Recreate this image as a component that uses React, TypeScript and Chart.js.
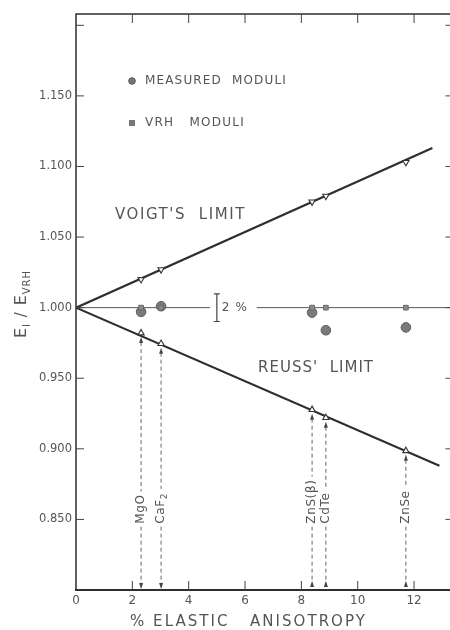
import React, { useEffect, useRef } from "react";
import { Chart, registerables } from "chart.js";

Chart.register(...registerables);

// ---- data ----
const compounds = ["MgO", "CaF", "ZnS(β)", "CdTe", "ZnSe"];
const compoundSubs = ["", "2", "", "", ""];
const anisotropy = [2.31, 3.02, 8.38, 8.87, 11.71];
const voigtRatio = [1.02, 1.027, 1.075, 1.079, 1.103];
const reussRatio = [0.982, 0.9745, 0.9277, 0.922, 0.8986];
const measuredRatio = [0.997, 1.001, 0.9965, 0.984, 0.986];
const vrhRatio = [1.0, 1.0, 1.0, 1.0, 1.0];
const voigtLineX = [0, 12.65];
const voigtLineY = [1.0, 1.113];
const reussLineX = [0, 12.9];
const reussLineY = [1.0, 0.888];
const refLeftX = [0, 4.75];
const refRightX = [6.42, 13.4];
const refY = 1.0;
const errBarX = 5.0;
const errBarHalf = 0.0098;
const xTickLabels = [0, 2, 4, 6, 8, 10, 12];
const xTickMarks = [2, 4, 6, 8, 10, 12];
const yTickLabels = [0.85, 0.9, 0.95, 1.0, 1.05, 1.1, 1.15];
const yTickMarks = [0.85, 0.9, 0.95, 1.0, 1.05, 1.1, 1.15, 1.2];
const X_MIN = 0;
const X_MAX = 13.4;
const Y_MIN = 0.8;
const Y_MAX = 1.208;
const bottomArrowUp = [false, false, true, true, true];
const labelBaseY = 0.847;

const FONT = '"DejaVu Sans", "Liberation Sans", sans-serif';
const TEXT = "#555";
const INK = "#2e2e2e";

function fitText(ctx: CanvasRenderingContext2D, text: string, x: number, y: number, width: number) {
  (ctx as any).letterSpacing = "0px";
  const w = ctx.measureText(text).width;
  const n = text.length;
  let ls = (width - w) / Math.max(1, n);
  if (ls < -1) ls = -1;
  (ctx as any).letterSpacing = ls.toFixed(2) + "px";
  ctx.textAlign = "left";
  ctx.fillText(text, x, y);
  (ctx as any).letterSpacing = "0px";
}

const decoPlugin = {
  id: "deco",
  beforeDatasetsDraw(chart: any) {
    const { ctx, chartArea: a, scales } = chart;
    const x = scales.x;
    const y = scales.y;
    ctx.save();
    ctx.textBaseline = "middle";
    compounds.forEach((name, i) => {
      const px = x.getPixelForValue(anisotropy[i]);
      const top = y.getPixelForValue(reussRatio[i]) + 4;
      const base = y.getPixelForValue(labelBaseY);
      ctx.font = `12px ${FONT}`;
      (ctx as any).letterSpacing = "0.6px";
      const w1 = ctx.measureText(name).width;
      ctx.font = `9px ${FONT}`;
      const w2 = compoundSubs[i] ? ctx.measureText(compoundSubs[i]).width + 1 : 0;
      const lw = w1 + w2;
      ctx.strokeStyle = "#555";
      ctx.lineWidth = 0.9;
      ctx.setLineDash([4, 3]);
      ctx.beginPath();
      ctx.moveTo(px, top + 5);
      ctx.lineTo(px, base - lw - 3);
      ctx.moveTo(px, base + 3);
      ctx.lineTo(px, a.bottom - 2);
      ctx.stroke();
      ctx.setLineDash([]);
      ctx.fillStyle = "#444";
      ctx.beginPath();
      ctx.moveTo(px, top);
      ctx.lineTo(px - 2, top + 6);
      ctx.lineTo(px + 2, top + 6);
      ctx.closePath();
      ctx.fill();
      ctx.beginPath();
      if (bottomArrowUp[i]) {
        ctx.moveTo(px, a.bottom - 9);
        ctx.lineTo(px - 2, a.bottom - 3);
        ctx.lineTo(px + 2, a.bottom - 3);
      } else {
        ctx.moveTo(px, a.bottom - 1);
        ctx.lineTo(px - 2, a.bottom - 7);
        ctx.lineTo(px + 2, a.bottom - 7);
      }
      ctx.closePath();
      ctx.fill();
      ctx.save();
      ctx.translate(px, base);
      ctx.rotate(-Math.PI / 2);
      ctx.fillStyle = TEXT;
      ctx.textAlign = "left";
      ctx.font = `12px ${FONT}`;
      (ctx as any).letterSpacing = "0.6px";
      ctx.fillText(name, 0, 0);
      if (compoundSubs[i]) {
        ctx.font = `9px ${FONT}`;
        ctx.fillText(compoundSubs[i], w1, 4);
      }
      (ctx as any).letterSpacing = "0px";
      ctx.restore();
    });
    ctx.restore();
  },
  afterDatasetsDraw(chart: any) {
    const { ctx, chartArea: a, scales } = chart;
    const x = scales.x;
    const y = scales.y;
    ctx.save();
    // frame (right side lies outside the visible window)
    ctx.strokeStyle = INK;
    ctx.lineWidth = 1.5;
    ctx.beginPath();
    ctx.moveTo(a.left, a.bottom);
    ctx.lineTo(a.left, a.top);
    ctx.lineTo(a.right + 10, a.top);
    ctx.stroke();
    ctx.lineWidth = 2.2;
    ctx.beginPath();
    ctx.moveTo(a.left - 1, a.bottom);
    ctx.lineTo(a.right + 10, a.bottom);
    ctx.stroke();
    // ticks
    ctx.lineWidth = 1;
    ctx.strokeStyle = "#444";
    ctx.beginPath();
    yTickMarks.forEach((v) => {
      const py = y.getPixelForValue(v);
      ctx.moveTo(a.left, py);
      ctx.lineTo(a.left + 8, py);
      ctx.moveTo(a.right, py);
      ctx.lineTo(a.right - 8, py);
    });
    xTickMarks.forEach((v) => {
      const px = x.getPixelForValue(v);
      ctx.moveTo(px, a.top);
      ctx.lineTo(px, a.top + 9);
      ctx.moveTo(px, a.bottom);
      ctx.lineTo(px, a.bottom - 9);
    });
    ctx.stroke();
    // error bar
    const ex = x.getPixelForValue(errBarX);
    const et = y.getPixelForValue(refY + errBarHalf);
    const eb = y.getPixelForValue(refY - errBarHalf);
    ctx.strokeStyle = "#444";
    ctx.lineWidth = 1.2;
    ctx.beginPath();
    ctx.moveTo(ex, et);
    ctx.lineTo(ex, eb);
    ctx.moveTo(ex - 3, et);
    ctx.lineTo(ex + 3, et);
    ctx.moveTo(ex - 3, eb);
    ctx.lineTo(ex + 3, eb);
    ctx.stroke();
    ctx.fillStyle = TEXT;
    ctx.textBaseline = "middle";
    ctx.font = `12px ${FONT}`;
    fitText(ctx, "2 %", ex + 5, y.getPixelForValue(refY), 26);
    // texts
    ctx.font = `12px ${FONT}`;
    fitText(ctx, "MEASURED  MODULI", 145, 81, 142);
    fitText(ctx, "VRH   MODULI", 145, 123, 100);
    ctx.font = `15px ${FONT}`;
    fitText(ctx, "VOIGT'S  LIMIT", 115, 215, 131);
    fitText(ctx, "REUSS'  LIMIT", 258, 368, 116);
    // legend marks
    ctx.fillStyle = "#777";
    ctx.strokeStyle = "#555";
    ctx.lineWidth = 1;
    ctx.beginPath();
    ctx.arc(132, 81, 3.3, 0, Math.PI * 2);
    ctx.fill();
    ctx.stroke();
    ctx.fillRect(129, 120, 6, 6);
    // x title
    ctx.fillStyle = TEXT;
    ctx.font = `15px ${FONT}`;
    fitText(ctx, "% ELASTIC   ANISOTROPY", 130, 622, 237);
    // y title
    ctx.save();
    ctx.translate(22, 338);
    ctx.rotate(-Math.PI / 2);
    ctx.textAlign = "left";
    ctx.textBaseline = "middle";
    let cx = 0;
    const part = (t: string, size: number, dy: number, ls: number) => {
      ctx.font = `${size}px ${FONT}`;
      (ctx as any).letterSpacing = ls + "px";
      ctx.fillText(t, cx, dy);
      cx += ctx.measureText(t).width;
    };
    part("E", 16, 0, 1);
    part("I", 10, 5, 1);
    part(" / ", 15, 0, 1);
    part("E", 16, 0, 1);
    part("VRH", 10, 5, 1);
    (ctx as any).letterSpacing = "0px";
    ctx.restore();
    ctx.restore();
  },
};

export default function App() {
  const ref = useRef<HTMLCanvasElement>(null);
  useEffect(() => {
    document.body.style.margin = "0";
    const pts = (xs: number[], ys: number[]) => xs.map((v, i) => ({ x: v, y: ys[i] }));
    const chart = new Chart(ref.current as HTMLCanvasElement, {
      type: "scatter",
      data: {
        datasets: [
          {
            label: "VRH moduli",
            data: pts(anisotropy, vrhRatio),
            pointStyle: "rect",
            pointRadius: 3.3,
            backgroundColor: "#8c8c8c",
            borderColor: "#666",
            borderWidth: 1,
          },
          {
            label: "Measured moduli",
            data: pts(anisotropy, measuredRatio),
            pointStyle: "circle",
            pointRadius: 4.8,
            backgroundColor: "#7a7a7a",
            borderColor: "#5c5c5c",
            borderWidth: 1,
          },
          {
            label: "Voigt",
            data: pts(anisotropy, voigtRatio),
            pointStyle: "triangle",
            rotation: 180,
            pointRadius: 3.6,
            backgroundColor: "#fff",
            borderColor: "#333",
            borderWidth: 1.1,
          },
          {
            label: "Reuss",
            data: pts(anisotropy, reussRatio),
            pointStyle: "triangle",
            pointRadius: 3.6,
            backgroundColor: "#fff",
            borderColor: "#333",
            borderWidth: 1.1,
          },
          {
            label: "Voigt limit",
            data: pts(voigtLineX, voigtLineY),
            showLine: true,
            pointRadius: 0,
            borderColor: INK,
            borderWidth: 2.2,
          },
          {
            label: "Reuss limit",
            data: pts(reussLineX, reussLineY),
            showLine: true,
            pointRadius: 0,
            borderColor: INK,
            borderWidth: 2.2,
          },
          {
            label: "ref left",
            data: refLeftX.map((v) => ({ x: v, y: refY })),
            showLine: true,
            pointRadius: 0,
            borderColor: "#555",
            borderWidth: 1,
          },
          {
            label: "ref right",
            data: refRightX.map((v) => ({ x: v, y: refY })),
            showLine: true,
            pointRadius: 0,
            borderColor: "#555",
            borderWidth: 1,
          },
        ],
      },
      options: {
        animation: false,
        responsive: false,
        layout: { padding: { top: 14, right: 462 - 453.5, left: 0, bottom: 0 } },
        plugins: { legend: { display: false }, tooltip: { enabled: false } },
        scales: {
          x: {
            type: "linear",
            min: X_MIN,
            max: X_MAX,
            grid: { display: false, drawTicks: false },
            border: { display: false },
            afterFit: (s: any) => {
              s.height = 40;
            },
            afterBuildTicks: (s: any) => {
              s.ticks = xTickLabels.map((v) => ({ value: v }));
            },
            ticks: {
              padding: 4,
              color: TEXT,
              font: { family: FONT, size: 12 },
              callback: (v: any) => String(v),
            },
          },
          y: {
            type: "linear",
            min: Y_MIN,
            max: Y_MAX,
            grid: { display: false, drawTicks: false },
            border: { display: false },
            afterFit: (s: any) => {
              s.width = 76;
            },
            afterBuildTicks: (s: any) => {
              s.ticks = yTickLabels.map((v) => ({ value: v }));
            },
            ticks: {
              padding: 4,
              color: TEXT,
              font: { family: FONT, size: 11.5 },
              callback: (v: any) => Number(v).toFixed(3),
            },
          },
        },
      },
      plugins: [decoPlugin],
    } as any);
    return () => chart.destroy();
  }, []);
  return (
    <div style={{ width: 450, height: 630, overflow: "hidden", background: "#fff", position: "relative" }}>
      <canvas ref={ref} width={462} height={630} style={{ display: "block" }} />
    </div>
  );
}
